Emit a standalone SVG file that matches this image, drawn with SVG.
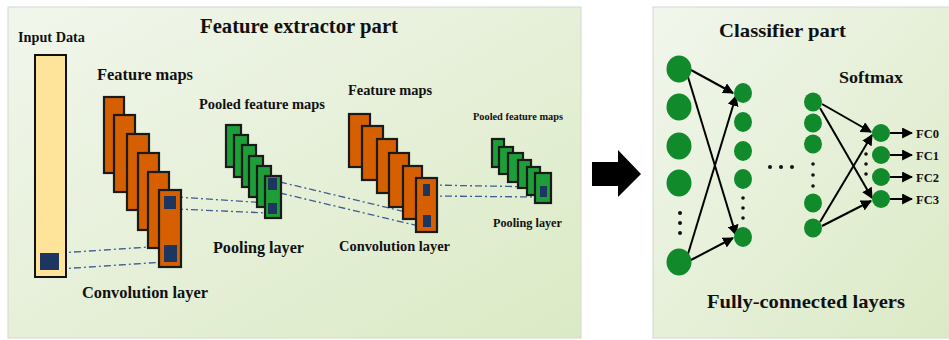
<svg xmlns="http://www.w3.org/2000/svg" width="949" height="340" viewBox="0 0 949 340">
<defs>
<linearGradient id="bg" x1="0" y1="0" x2="1" y2="1">
<stop offset="0" stop-color="#f1f6ec"/>
<stop offset="1" stop-color="#dbeac5"/>
</linearGradient>
<marker id="ah" viewBox="0 0 10 10" refX="9" refY="5" markerWidth="5.5" markerHeight="5.5" markerUnits="strokeWidth" orient="auto">
<path d="M0,0 L10,5 L0,10 Z" fill="#000"/>
</marker>
<style>
text{font-family:"Liberation Serif","Times New Roman",serif;font-weight:bold;fill:#111}
.panel{fill:url(#bg);stroke:#d4d8d0;stroke-width:1}
.inp{fill:#fde49a;stroke:#111;stroke-width:2}
.or{fill:#d65f00;stroke:#1a1a1a;stroke-width:2.2}
.gr{fill:#1e9e38;stroke:#1a1a1a;stroke-width:2.2}
.sq{fill:#1c3660}
.dd{stroke:#3d5d90;stroke-width:1.3;fill:none;stroke-dasharray:7 3 2 3}
.nd{fill:#108a2a}
.dot{fill:#111}
.ar{stroke:#000;stroke-width:2;fill:none;marker-end:url(#ah)}
</style>
</defs>
<rect width="949" height="340" fill="#ffffff"/>
<g id="panel-feature">
<rect class="panel" x="8" y="7" width="573" height="331"/>
<text x="200" y="33" font-size="20" textLength="198" lengthAdjust="spacingAndGlyphs">Feature extractor part</text>
</g>
<g id="panel-classifier">
<rect class="panel" x="653" y="7" width="300" height="331"/>
<text x="719" y="37" font-size="19.5" textLength="127" lengthAdjust="spacingAndGlyphs">Classifier part</text>
</g>
<g id="connectors">
<path class="dd" d="M59,253 L164,246"/>
<path class="dd" d="M59,269 L164,262"/>
<path class="dd" d="M176,197 L268,203"/>
<path class="dd" d="M176,209 L268,213"/>
<path class="dd" d="M280,182 L423,216"/>
<path class="dd" d="M280,193 L423,227"/>
<path class="dd" d="M430,185 L540,187"/>
<path class="dd" d="M430,196 L540,197"/>
<path class="ar" d="M691,70 L733,93"/>
<path class="ar" d="M688,77 L736,235"/>
<path class="ar" d="M688,254 L736,96"/>
<path class="ar" d="M691,260 L733,238"/>
<path class="ar" d="M822,104 L871,132"/>
<path class="ar" d="M820,108 L872,198"/>
<path class="ar" d="M820,222 L872,135"/>
<path class="ar" d="M822,226 L871,201"/>
<path class="ar" d="M890,133 L912,133"/>
<path class="ar" d="M890,155 L912,155"/>
<path class="ar" d="M890,177 L912,177"/>
<path class="ar" d="M890,199 L912,199"/>
</g>
<g id="input-data">
<text x="18" y="42" font-size="14" textLength="67" lengthAdjust="spacingAndGlyphs">Input Data</text>
<rect class="inp" x="35" y="55" width="31" height="222"/>
<rect class="sq" x="40" y="253" width="19" height="17"/>
</g>
<g id="feature-maps-1">
<text x="97" y="80" font-size="16" textLength="96" lengthAdjust="spacingAndGlyphs">Feature maps</text>
<rect class="or" x="104" y="97" width="20" height="76"/>
<rect class="or" x="114" y="115" width="21" height="77"/>
<rect class="or" x="127" y="134" width="22" height="76"/>
<rect class="or" x="138" y="153" width="21" height="77"/>
<rect class="or" x="148" y="172" width="21" height="76"/>
<rect class="or" x="159" y="190" width="22" height="77"/>
<rect class="sq" x="164" y="196" width="12" height="13"/>
<rect class="sq" x="164" y="245" width="13" height="17"/>
<text x="82" y="298" font-size="16" textLength="126" lengthAdjust="spacingAndGlyphs">Convolution layer</text>
</g>
<g id="pooled-maps-1">
<text x="199" y="109" font-size="14" textLength="126" lengthAdjust="spacingAndGlyphs">Pooled feature maps</text>
<rect class="gr" x="226" y="125" width="15" height="42"/>
<rect class="gr" x="234" y="135" width="14" height="42"/>
<rect class="gr" x="242" y="145" width="14" height="42"/>
<rect class="gr" x="249" y="156" width="14" height="41"/>
<rect class="gr" x="257" y="166" width="14" height="41"/>
<rect class="gr" x="265" y="176" width="16" height="42"/>
<rect class="sq" x="268" y="178" width="9" height="12"/>
<rect class="sq" x="268" y="203" width="9" height="11"/>
<text x="213" y="253" font-size="16" textLength="91" lengthAdjust="spacingAndGlyphs">Pooling layer</text>
</g>
<g id="feature-maps-2">
<text x="348" y="95" font-size="14.2" textLength="84" lengthAdjust="spacingAndGlyphs">Feature maps</text>
<rect class="or" x="349" y="114" width="21" height="53"/>
<rect class="or" x="362" y="126" width="21" height="54"/>
<rect class="or" x="377" y="139" width="20" height="54"/>
<rect class="or" x="389" y="153" width="20" height="54"/>
<rect class="or" x="403" y="166" width="19" height="53"/>
<rect class="or" x="416" y="178" width="21" height="54"/>
<rect class="sq" x="423" y="184" width="7" height="12"/>
<rect class="sq" x="423" y="215" width="8" height="12"/>
<text x="339" y="251" font-size="14.2" textLength="111" lengthAdjust="spacingAndGlyphs">Convolution layer</text>
</g>
<g id="pooled-maps-2">
<text x="473" y="120" font-size="10.2" textLength="90" lengthAdjust="spacingAndGlyphs">Pooled feature maps</text>
<rect class="gr" x="492" y="139" width="12" height="28"/>
<rect class="gr" x="499" y="147" width="14" height="27"/>
<rect class="gr" x="508" y="153" width="15" height="29"/>
<rect class="gr" x="518" y="160" width="13" height="28"/>
<rect class="gr" x="527" y="167" width="13" height="28"/>
<rect class="gr" x="535" y="173" width="16" height="30"/>
<rect class="sq" x="540" y="186" width="7" height="11"/>
<text x="493" y="227" font-size="12" textLength="69" lengthAdjust="spacingAndGlyphs">Pooling layer</text>
</g>
<g id="big-arrow">
<polygon points="592,162 618,162 618,150 641,174 618,197 618,186 592,186" fill="#000"/>
</g>
<g id="fc-layer-1">
<ellipse class="nd" cx="679" cy="69" rx="12.5" ry="13.5"/>
<ellipse class="nd" cx="679" cy="107" rx="12.5" ry="13.5"/>
<ellipse class="nd" cx="679" cy="146" rx="12.5" ry="13.5"/>
<ellipse class="nd" cx="679" cy="183" rx="12.5" ry="13.5"/>
<circle class="dot" cx="680" cy="213" r="2"/>
<circle class="dot" cx="680" cy="223" r="2"/>
<circle class="dot" cx="680" cy="233" r="2"/>
<ellipse class="nd" cx="679" cy="262" rx="12.5" ry="13.5"/>
</g>
<g id="fc-layer-2">
<ellipse class="nd" cx="743" cy="93" rx="9" ry="10"/>
<ellipse class="nd" cx="743" cy="122" rx="9" ry="10"/>
<ellipse class="nd" cx="743" cy="151" rx="9" ry="10"/>
<ellipse class="nd" cx="743" cy="179" rx="9" ry="10"/>
<circle class="dot" cx="743" cy="198" r="1.8"/>
<circle class="dot" cx="743" cy="208" r="1.8"/>
<circle class="dot" cx="743" cy="218" r="1.8"/>
<ellipse class="nd" cx="743" cy="237" rx="9" ry="10"/>
</g>
<g id="ellipsis">
<circle class="dot" cx="770" cy="167" r="2"/>
<circle class="dot" cx="781" cy="167" r="2"/>
<circle class="dot" cx="792" cy="167" r="2"/>
</g>
<g id="fc-layer-3">
<ellipse class="nd" cx="813" cy="102" rx="9" ry="9.5"/>
<ellipse class="nd" cx="813" cy="123" rx="9" ry="9.5"/>
<ellipse class="nd" cx="813" cy="144" rx="9" ry="9.5"/>
<circle class="dot" cx="813" cy="164" r="1.8"/>
<circle class="dot" cx="813" cy="175" r="1.8"/>
<circle class="dot" cx="813" cy="186" r="1.8"/>
<ellipse class="nd" cx="813" cy="203" rx="9" ry="9.5"/>
<ellipse class="nd" cx="813" cy="228" rx="9" ry="9.5"/>
</g>
<g id="softmax-layer">
<text x="839" y="83" font-size="16" textLength="64" lengthAdjust="spacingAndGlyphs">Softmax</text>
<circle class="dot" cx="866" cy="154" r="1.8"/>
<circle class="dot" cx="866" cy="164" r="1.8"/>
<circle class="dot" cx="866" cy="174" r="1.8"/>
<ellipse class="nd" cx="881" cy="133" rx="9" ry="9"/>
<ellipse class="nd" cx="881" cy="155" rx="9" ry="9"/>
<ellipse class="nd" cx="881" cy="177" rx="9" ry="9"/>
<ellipse class="nd" cx="881" cy="199" rx="9" ry="9"/>
<text x="916" y="138" font-size="12.5">FC0</text>
<text x="916" y="160" font-size="12.5">FC1</text>
<text x="916" y="182" font-size="12.5">FC2</text>
<text x="916" y="204" font-size="12.5">FC3</text>
</g>
<g id="fc-label">
<text x="707" y="308" font-size="19.5" textLength="198" lengthAdjust="spacingAndGlyphs">Fully-connected layers</text>
</g>
</svg>
